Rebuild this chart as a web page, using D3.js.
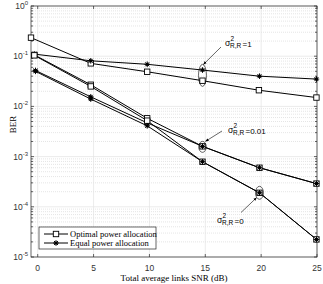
<!DOCTYPE html>
<html>
<head>
<meta charset="utf-8">
<script src="https://cdn.jsdelivr.net/npm/d3@7"></script>
<style>
  body { margin: 0; background: #fff; }
  svg { display: block; }
</style>
</head>
<body>
<svg id="chart" width="323" height="284"></svg>
<script>
// x positions of the points (dB)
const snrTop = [-0.6, 4.75, 9.8, 14.75, 19.8, 24.95];
const snr = [-0.3, 4.75, 9.8, 14.75, 19.85, 24.95];
const snrStar0 = [-0.2, 4.75, 9.8, 14.75, 19.85, 24.95];

// BER values
const optVar1 = [0.234, 0.072, 0.049, 0.0325, 0.021, 0.015];
const eqVar1 = [0.11, 0.081, 0.069, 0.053, 0.040, 0.035];
const optVar001 = [0.106, 0.027, 0.0058, 0.0016, 0.0006, 0.00029];
const eqVar001 = [0.052, 0.0155, 0.0047, 0.0016, 0.0006, 0.00029];
const optVar0 = [0.104, 0.025, 0.0052, 0.00079, 0.00019, 0.0000224];
const eqVar0 = [0.050, 0.014, 0.0041, 0.00079, 0.00019, 0.0000224];

const xTicks = [0, 5, 10, 15, 20, 25];
const yExps = [0, -1, -2, -3, -4, -5];

const series = [
  { x: snrTop, y: optVar1, marker: 'square' },
  { x: snr, y: eqVar1, marker: 'star' },
  { x: snr, y: optVar001, marker: 'square' },
  { x: snrStar0, y: eqVar001, marker: 'star' },
  { x: snr, y: optVar0, marker: 'square' },
  { x: snrStar0, y: eqVar0, marker: 'star' }
];

const pLeft = 31, pRight = 317, pTop = 6, pBottom = 257;
const svg = d3.select('#chart');

const x = d3.scaleLinear().domain([-0.6, 25]).range([pLeft, pRight]);
const y = d3.scaleLog().domain([1e-5, 1]).range([pBottom, pTop]);

// grid
const grid = svg.append('g');
// minor y grid (dotted)
for (let e = -5; e < 0; e++) {
  for (let m = 2; m <= 9; m++) {
    const v = m * Math.pow(10, e);
    grid.append('line')
      .attr('x1', pLeft).attr('x2', pRight)
      .attr('y1', y(v)).attr('y2', y(v))
      .attr('stroke', '#d4d4d4').attr('stroke-width', 0.6)
      .attr('stroke-dasharray', '1,1');
  }
}
// major grid
yExps.forEach(e => {
  grid.append('line')
    .attr('x1', pLeft).attr('x2', pRight)
    .attr('y1', y(Math.pow(10, e))).attr('y2', y(Math.pow(10, e)))
    .attr('stroke', '#e2e2e2').attr('stroke-width', 0.7);
});
xTicks.forEach(t => {
  grid.append('line')
    .attr('x1', x(t)).attr('x2', x(t))
    .attr('y1', pTop).attr('y2', pBottom)
    .attr('stroke', '#e2e2e2').attr('stroke-width', 0.7);
});

// frame and ticks
const axis = svg.append('g').attr('stroke', '#262626').attr('stroke-width', 0.7);
axis.append('rect')
  .attr('x', pLeft).attr('y', pTop)
  .attr('width', pRight - pLeft).attr('height', pBottom - pTop)
  .attr('fill', 'none');
xTicks.forEach(t => {
  axis.append('line').attr('x1', x(t)).attr('x2', x(t)).attr('y1', pBottom).attr('y2', pBottom - 3);
  axis.append('line').attr('x1', x(t)).attr('x2', x(t)).attr('y1', pTop).attr('y2', pTop + 3);
});
for (let e = -5; e < 0; e++) {
  for (let m = 2; m <= 9; m++) {
    const v = m * Math.pow(10, e);
    axis.append('line').attr('x1', pLeft).attr('x2', pLeft + 2).attr('y1', y(v)).attr('y2', y(v));
    axis.append('line').attr('x1', pRight).attr('x2', pRight - 2).attr('y1', y(v)).attr('y2', y(v));
  }
}
yExps.forEach(e => {
  const v = Math.pow(10, e);
  axis.append('line').attr('x1', pLeft).attr('x2', pLeft + 3).attr('y1', y(v)).attr('y2', y(v));
  axis.append('line').attr('x1', pRight).attr('x2', pRight - 3).attr('y1', y(v)).attr('y2', y(v));
});

// tick labels
const sans = 'Liberation Sans, Arial, sans-serif';
const serif = 'Liberation Serif, Times New Roman, serif';
svg.append('g').selectAll('text')
  .data(xTicks)
  .join('text')
  .attr('x', d => x(d))
  .attr('y', 271)
  .attr('text-anchor', 'middle')
  .attr('font-family', sans)
  .attr('font-size', 8.5)
  .attr('fill', '#333')
  .text(d => d);

const yl = svg.append('g').selectAll('text')
  .data(yExps)
  .join('text')
  .attr('x', 28)
  .attr('y', d => y(Math.pow(10, d)) + 3)
  .attr('text-anchor', 'end')
  .attr('font-family', sans)
  .attr('font-size', 8.5)
  .attr('fill', '#333');
yl.append('tspan').text('10');
yl.append('tspan').attr('dy', -4).attr('font-size', 6).text(d => d);

// axis titles
svg.append('text')
  .attr('x', 174).attr('y', 281)
  .attr('text-anchor', 'middle')
  .attr('font-family', serif).attr('font-size', 9)
  .text('Total average links SNR (dB)');
svg.append('text')
  .attr('transform', 'translate(16,124.5) rotate(-90)')
  .attr('text-anchor', 'middle')
  .attr('font-family', serif).attr('font-size', 9)
  .text('BER');

// lines
const line = d3.line().x(d => x(d[0])).y(d => y(d[1]));
const plot = svg.append('g');
series.forEach(s => {
  const pts = s.x.map((v, i) => [v, s.y[i]]);
  plot.append('path')
    .attr('d', line(pts))
    .attr('fill', 'none')
    .attr('stroke', '#000')
    .attr('stroke-width', 1);
});

function drawMarker(g, type, cx, cy) {
  if (type === 'square') {
    g.append('rect')
      .attr('x', cx - 2.7).attr('y', cy - 2.7)
      .attr('width', 5.4).attr('height', 5.4)
      .attr('fill', '#fff').attr('stroke', '#000').attr('stroke-width', 0.9);
  } else {
    const r = 2.8;
    const path = d3.path();
    for (let k = 0; k < 4; k++) {
      const a = k * Math.PI / 4;
      path.moveTo(cx - r * Math.cos(a), cy - r * Math.sin(a));
      path.lineTo(cx + r * Math.cos(a), cy + r * Math.sin(a));
    }
    g.append('path').attr('d', path.toString())
      .attr('stroke', '#000').attr('stroke-width', 1);
    g.append('circle').attr('cx', cx).attr('cy', cy).attr('r', 1.6).attr('fill', '#000');
  }
}

series.forEach(s => {
  s.x.forEach((v, i) => drawMarker(plot, s.marker, x(v), y(s.y[i])));
});

// annotations
const ann = svg.append('g');
svg.append('defs').append('marker')
  .attr('id', 'arrow')
  .attr('viewBox', '0 0 10 10')
  .attr('refX', 9).attr('refY', 5)
  .attr('markerWidth', 6).attr('markerHeight', 6)
  .attr('orient', 'auto')
  .append('path').attr('d', 'M0,1 L10,5 L0,9 z').attr('fill', '#000');

function ellipse(cx, cy, rx, ry) {
  ann.append('ellipse')
    .attr('cx', cx).attr('cy', cy).attr('rx', rx).attr('ry', ry)
    .attr('fill', 'none').attr('stroke', '#000').attr('stroke-width', 0.6);
}
function arrow(x1, y1, x2, y2) {
  ann.append('line')
    .attr('x1', x1).attr('y1', y1).attr('x2', x2).attr('y2', y2)
    .attr('stroke', '#000').attr('stroke-width', 0.6)
    .attr('marker-end', 'url(#arrow)');
}
function sigmaLabel(tx, ty, val) {
  const t = ann.append('g').attr('font-family', sans).attr('fill', '#000');
  t.append('text').attr('x', tx).attr('y', ty).attr('font-size', 8.5).text('σ');
  t.append('text').attr('x', tx + 5.5).attr('y', ty - 5).attr('font-size', 6.5).text('2');
  t.append('text').attr('x', tx + 5).attr('y', ty + 2).attr('font-size', 6.5).text('R,R');
  t.append('text').attr('x', tx + 17.5).attr('y', ty + 1).attr('font-size', 8).text('=' + val);
}

const ySig1 = (y(eqVar1[3]) + y(optVar1[3])) / 2;
ellipse(x(snr[3]), ySig1, 4, 11);
arrow(221, 47, x(snr[3]) + 1, ySig1 - 11);
sigmaLabel(225, 46, '1');

ellipse(x(snr[3]), y(optVar001[3]) + 0.5, 3.8, 5.5);
arrow(222, 131, x(snr[3]) + 3, y(optVar001[3]) - 5);
sigmaLabel(228, 133, '0.01');

ellipse(x(snr[4]), y(optVar0[4]), 4, 6.5);
arrow(241, 212.5, x(snr[4]) - 3, y(optVar0[4]) + 5);
sigmaLabel(217, 223, '0');

// legend
const lg = svg.append('g');
lg.append('rect')
  .attr('x', 39).attr('y', 227).attr('width', 117).attr('height', 22)
  .attr('fill', '#fff').attr('stroke', '#262626').attr('stroke-width', 0.7);
const legendItems = [
  { label: 'Optimal power allocation', marker: 'square' },
  { label: 'Equal power allocation', marker: 'star' }
];
legendItems.forEach((d, i) => {
  const ly = 234 + i * 9;
  lg.append('line').attr('x1', 44).attr('x2', 68).attr('y1', ly).attr('y2', ly)
    .attr('stroke', '#000').attr('stroke-width', 1);
  drawMarker(lg, d.marker, 56, ly);
  lg.append('text').attr('x', 70).attr('y', ly + 3)
    .attr('font-family', serif).attr('font-size', 8.5)
    .text(d.label);
});
</script>
</body>
</html>
